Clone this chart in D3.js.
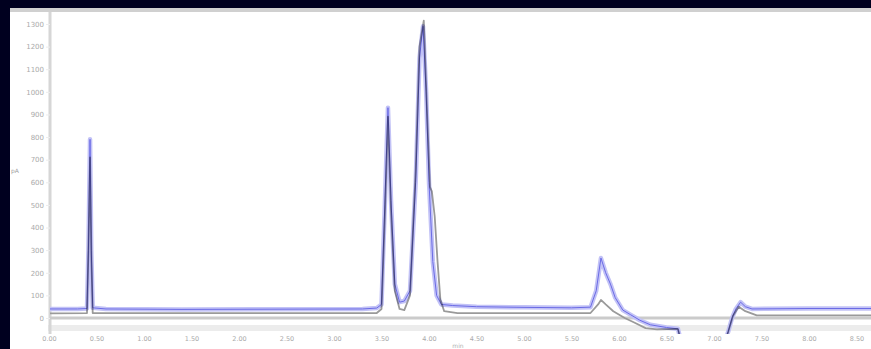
<!DOCTYPE html>
<html>
<head>
<meta charset="utf-8">
<script src="https://cdn.jsdelivr.net/npm/d3@7"></script>
<style>
  html, body { margin: 0; padding: 0; background: #00001f; }
  svg { display: block; }
  text { font-family: "DejaVu Sans", sans-serif; }
</style>
</head>
<body>
<svg id="chart" width="871" height="349"></svg>
<script>
// Retention time axis (min) and detector response ticks
const xTicks = [0, 0.5, 1, 1.5, 2, 2.5, 3, 3.5, 4, 4.5, 5, 5.5, 6, 6.5, 7, 7.5, 8, 8.5];
const yTicks = [0, 100, 200, 300, 400, 500, 600, 700, 800, 900, 1000, 1100, 1200, 1300];

// Trace A (blue): time in min, response
const blueTime = [0.00, 0.30, 0.40, 0.415, 0.432, 0.445, 0.46, 0.60, 1.40, 3.30, 3.45, 3.50, 3.535, 3.568, 3.60, 3.64, 3.69, 3.74, 3.80, 3.86, 3.90, 3.937, 3.97, 4.00, 4.04, 4.08, 4.13, 4.25, 4.50, 5.00, 5.50, 5.70, 5.76, 5.81, 5.86, 5.91, 5.96, 6.04, 6.12, 6.22, 6.33, 6.50, 6.62, 6.68, 7.08, 7.15, 7.19, 7.23, 7.28, 7.33, 7.40, 8.00, 8.70];
const blueValue = [40, 40, 42, 300, 790, 300, 45, 40, 38, 40, 44, 60, 500, 930, 520, 150, 70, 75, 120, 600, 1150, 1290, 1000, 600, 250, 100, 60, 55, 50, 47, 45, 48, 120, 265, 200, 150, 90, 35, 15, -10, -30, -42, -48, -150, -150, -60, 0, 40, 70, 50, 40, 42, 42];

// Trace B (grey): time in min, response
const greyTime = [0.00, 0.40, 0.415, 0.432, 0.447, 0.46, 3.45, 3.50, 3.535, 3.568, 3.60, 3.64, 3.69, 3.74, 3.80, 3.86, 3.90, 3.945, 3.98, 4.01, 4.03, 4.06, 4.09, 4.12, 4.16, 4.30, 5.70, 5.78, 5.81, 5.86, 5.94, 6.06, 6.16, 6.28, 6.40, 6.62, 6.68, 7.08, 7.15, 7.20, 7.26, 7.33, 7.45, 8.70];
const greyValue = [20, 22, 300, 710, 250, 22, 22, 40, 450, 890, 480, 120, 40, 35, 100, 650, 1200, 1315, 900, 580, 560, 450, 250, 80, 30, 22, 22, 60, 80, 60, 30, 0, -20, -45, -50, -48, -150, -150, -60, 10, 50, 30, 12, 12];

const svg = d3.select("#chart");
const W = 871, H = 349;

// white panel inside the dark frame
svg.append("rect").attr("x", 10).attr("y", 8).attr("width", W - 10).attr("height", H - 8).attr("fill", "#ffffff");
svg.append("rect").attr("x", 10).attr("y", 8).attr("width", W - 10).attr("height", 4).attr("fill", "#d0d0d0");

const x = d3.scaleLinear().domain([0, 1]).range([49, 144]);
const y = d3.scaleLinear().domain([0, 1300]).range([318, 24]);

// clip for the traces
svg.append("clipPath").attr("id", "plotClip")
  .append("rect").attr("x", 50).attr("y", 12).attr("width", W - 50).attr("height", 322);

// light band under the x axis
svg.append("rect").attr("x", 48).attr("y", 325).attr("width", W - 48).attr("height", 6).attr("fill", "#ececec");

// y axis
const yAxis = d3.axisLeft(y).tickValues(yTicks).tickSize(4).tickFormat(d3.format("d"));
const gy = svg.append("g").attr("transform", "translate(50,0)").call(yAxis);
gy.select(".domain").attr("stroke", "#d6d6d6").attr("stroke-width", 3).attr("d", "M0,12V334");
gy.selectAll(".tick line").attr("stroke", "#ececec");
gy.selectAll(".tick text").attr("fill", "#aaaaaa").attr("font-size", 7).attr("x", -6);

// x axis
const xAxis = d3.axisBottom(x).tickValues(xTicks).tickSize(0).tickPadding(0).tickFormat(d3.format(".2f"));
const gx = svg.append("g").attr("transform", "translate(0,318)").call(xAxis);
gx.select(".domain").attr("stroke", "#cbcbcb").attr("stroke-width", 3).attr("d", "M50,0H871");
gx.selectAll(".tick text").attr("fill", "#aaaaaa").attr("font-size", 6.5).attr("dy", 0).attr("y", 23);

// axis titles
svg.append("text").attr("x", 458).attr("y", 348).attr("text-anchor", "middle")
  .attr("font-size", 6).attr("fill", "#b0b0b0").text("min");
svg.append("text").attr("x", 15).attr("y", 173).attr("text-anchor", "middle")
  .attr("font-size", 6).attr("fill", "#a0a0a0").text("pA");

const line = d3.line().x(d => x(d[0])).y(d => y(d[1]));
const traces = svg.append("g").attr("clip-path", "url(#plotClip)");

traces.append("path")
  .datum(d3.zip(blueTime, blueValue))
  .attr("d", line)
  .attr("fill", "none")
  .attr("stroke", "#c2c2f6")
  .attr("stroke-width", 4.5)
  .attr("stroke-linejoin", "round");

traces.append("path")
  .datum(d3.zip(greyTime, greyValue))
  .attr("d", line)
  .attr("fill", "none")
  .attr("stroke", "#9a9a9a")
  .attr("stroke-width", 1.8)
  .attr("stroke-linejoin", "round")
  .style("mix-blend-mode", "multiply");

traces.append("path")
  .datum(d3.zip(blueTime, blueValue))
  .attr("d", line)
  .attr("fill", "none")
  .attr("stroke", "#8c8cee")
  .attr("stroke-width", 1)
  .attr("stroke-linejoin", "round")
  .style("mix-blend-mode", "multiply");
</script>
</body>
</html>
